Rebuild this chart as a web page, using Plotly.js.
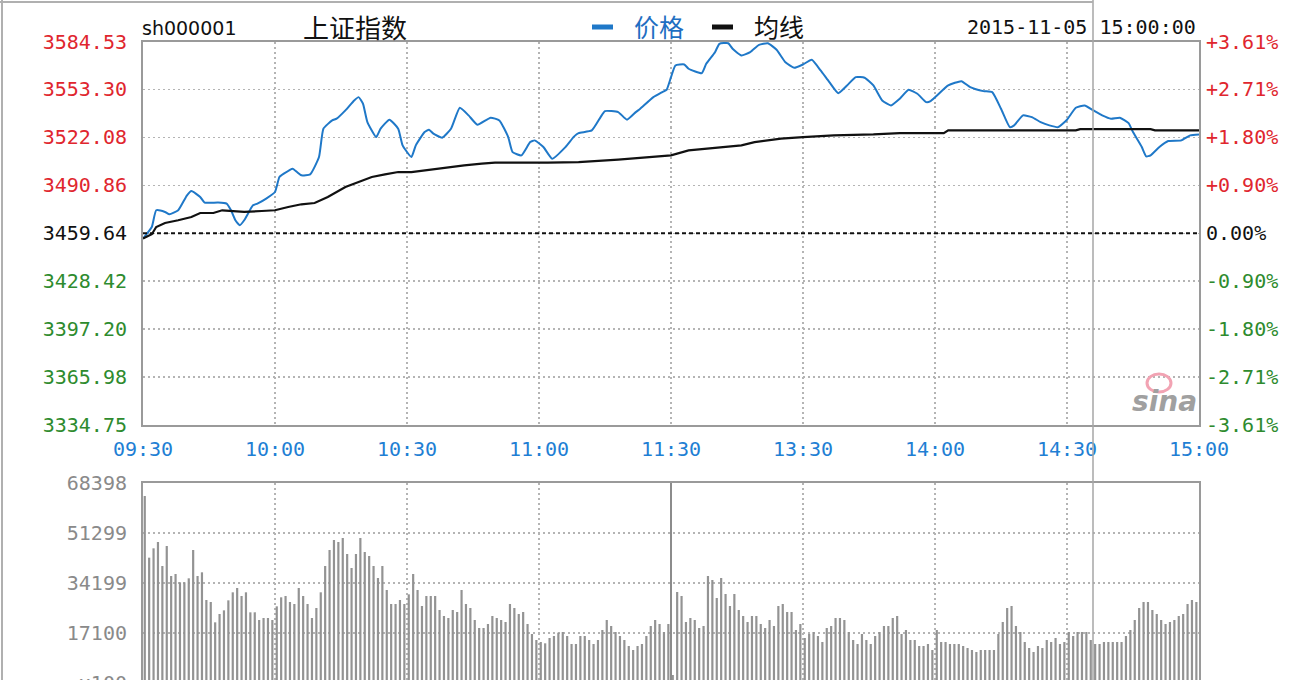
<!DOCTYPE html>
<html>
<head>
<meta charset="utf-8">
<script src="https://cdn.plot.ly/plotly-3.0.1.min.js"></script>
<style>
html,body{margin:0;padding:0;overflow:hidden;background:#fff;}
#chart{width:1300px;height:700px;}
</style>
</head>
<body>
<div id="chart"></div>
<script>
// ---------------- DATA ----------------
const symbol = "sh000001";
const indexName = "上证指数";
const legendNames = ["价格", "均线"];
const stamp = "2015-11-05 15:00:00";
const prevClose = 3459.64;

const timeTickLabels = ["09:30","10:00","10:30","11:00","11:30","13:30","14:00","14:30","15:00"];
const priceTicks = [3584.53,3553.30,3522.08,3490.86,3459.64,3428.42,3397.20,3365.98,3334.75];
const priceTickLabels = ["3584.53","3553.30","3522.08","3490.86","3459.64","3428.42","3397.20","3365.98","3334.75"];
const pctTickLabels = ["+3.61%","+2.71%","+1.80%","+0.90%","0.00%","-0.90%","-1.80%","-2.71%","-3.61%"];
const volTicks = [68398,51299,34199,17100,0];
const volTickLabels = ["68398","51299","34199","17100","x100"];

const priceTimes = ["09:30","09:32","09:33","09:35","09:36","09:38","09:40","09:41","09:43","09:44","09:47","09:49","09:50","09:51","09:52","09:53","09:55","09:56","09:58","10:00",
"10:01","10:02","10:04","10:05","10:06","10:08","10:10","10:11","10:13","10:14","10:16","10:18","10:19","10:20","10:21","10:23","10:24","10:26","10:28","10:29",
"10:31","10:32","10:34","10:35","10:36","10:38","10:40","10:42","10:44","10:46","10:49","10:51","10:53","10:54","10:56","10:58","10:59","11:01","11:03","11:06",
"11:08","11:09","11:12","11:14","11:15","11:18","11:20","11:22","11:23","11:26","11:28","11:29","11:30","13:01","13:03","13:04","13:07","13:08","13:10","13:11",
"13:13","13:14","13:16","13:18","13:20","13:22","13:24","13:26","13:28","13:30","13:32","13:34","13:36","13:38","13:40","13:42","13:44","13:46","13:48","13:50",
"13:52","13:54","13:56","13:58","13:59","14:03","14:06","14:08","14:11","14:13","14:15","14:17","14:18","14:20","14:22","14:24","14:26","14:28","14:30","14:32",
"14:34","14:36","14:38","14:40","14:42","14:44","14:45","14:47","14:48","14:49","14:51","14:53","14:56","14:58","15:00"];
const priceValues = [3456.19,3463.70,3474.60,3473.50,3472.00,3474.60,3484.35,3487.15,3483.25,3479.60,3479.60,3478.95,3474.60,3468.09,3464.84,3468.10,3477.85,3478.95,3482.20,3486.50,
3496.26,3498.47,3501.72,3499.50,3497.37,3498.00,3509.27,3527.74,3533.14,3534.25,3539.65,3546.15,3548.30,3544.00,3532.04,3522.28,3527.74,3533.60,3527.74,3516.88,
3509.27,3516.88,3525.53,3527.10,3524.50,3521.90,3527.74,3541.40,3536.40,3530.35,3534.90,3533.14,3522.28,3512.52,3510.37,3519.03,3520.13,3515.77,3508.20,3515.77,
3522.73,3524.88,3526.63,3535.30,3539.20,3538.54,3533.60,3538.54,3540.75,3548.30,3551.55,3553.10,3561.31,3568.90,3569.57,3566.77,3563.91,3570.00,3577.57,3583.03,
3583.40,3579.78,3575.42,3577.57,3582.38,3583.40,3579.13,3571.06,3567.42,3569.57,3572.63,3565.67,3558.06,3550.90,3555.90,3561.31,3560.90,3555.90,3546.15,3542.90,
3547.26,3553.10,3550.50,3545.05,3545.70,3555.90,3558.70,3554.80,3552.20,3551.55,3540.75,3528.78,3529.89,3536.40,3535.30,3532.04,3529.89,3528.78,3533.60,3541.40,
3542.90,3539.65,3536.40,3534.25,3534.90,3531.38,3525.53,3515.77,3509.72,3510.37,3515.77,3519.68,3520.13,3523.38,3524.03];

const avgTimes = ["09:30","09:32","09:33","09:35","09:38","09:41","09:43","09:46","09:48","09:51","09:53","09:57","10:00","10:03","10:06","10:09","10:12","10:16","10:19","10:22",
"10:25","10:28","10:31","10:35","10:40","10:43","10:47","10:50","11:02","11:09","11:18","11:23","11:30","13:04","13:11","13:16","13:19","13:25","13:30","13:37",
"13:46","13:52","14:02","14:03","14:32","14:33","14:49","14:50","15:00"];
const avgValues = [3456.20,3459.00,3463.70,3466.33,3468.09,3470.24,3472.84,3472.84,3474.60,3474.14,3473.50,3474.14,3474.60,3476.73,3478.50,3479.35,3483.25,3489.75,3493.00,3496.26,
3498.00,3499.51,3499.51,3501.07,3502.76,3503.87,3504.97,3505.62,3505.62,3506.00,3507.58,3508.88,3510.37,3513.60,3515.77,3516.88,3519.03,3521.24,3522.28,3523.38,
3524.03,3524.88,3524.88,3526.63,3526.63,3527.48,3527.48,3526.63,3526.63];

// one bar per minute from 09:30 (units of 100 shares)
const volumes = [
63950,42860,46060,48220,40010,46850,36590,37280,34430,34430,35800,45490,36590,37850,28390,27700,20750,23600,24850,28270,
31010,32490,29750,31010,24170,24170,21550,22230,22230,21550,26220,29300,29750,27700,27020,32490,29750,27020,22230,25650,
31010,40010,45490,48910,48220,49590,44120,39330,44120,49590,44800,43430,40010,35910,40010,31810,27020,27020,28390,27020,
30320,37280,31810,26330,29750,29750,29750,24970,
22910,22230,24970,24280,31810,27020,25650,21550,18810,18810,20180,22910,22230,21550,20860,27020,25650,23600,24280,20180,
16760,14710,14020,13570,15390,16070,17210,17440,16070,13340,13340,16070,16070,14710,13340,14710,18130,21550,19490,17440,
16070,14710,12650,11290,12650,13340,16070,19490,21550,20180,17440,20180,2740,
31120,29750,20860,22230,21550,18810,19490,36590,35230,29070,35910,30440,26330,30440,24970,22910,20860,22910,22910,20180,
18810,21550,19490,26330,27020,24280,24280,18130,20180,15390,16760,17440,16070,14020,18810,19490,22230,22230,21550,17440,
14710,13340,16760,14710,13340,
16070,17440,19490,19490,22230,22910,16760,18130,14710,14710,12650,12650,13340,11290,18130,14020,14020,13340,13340,13340,
12650,11970,11290,10600,11290,11290,11290,11290,16760,20860,25650,26330,19490,17440,14020,11970,10600,12650,11970,14710,
14020,15390,13340,14020,17440,16070,17440,17440,17440,14710,13340,13340,14020,14020,14020,14020,14020,16070,18130,21550,
25650,27700,27700,24970,23600,21550,20180,20860,21550,22910,23600,27020,28390,27700];

// ---------------- HELPERS ----------------
function minuteIndex(s){
  const [h,m] = s.split(":").map(Number);
  const t = h*60+m;
  return t <= 690 ? t-570 : t-780+120;
}
const W = 1300, H = 700;
const fx = p => p/W;
const fy = p => 1 - p/H;
const MONO = "DejaVu Sans Mono";
const RED = "#e0262e", GREEN = "#2e8b2e", BLUE = "#1f7fd4", GRID = "#b4b4b4", FRAME = "#9a9a9a";

function colorFor(v){ return v > prevClose + 1e-6 ? RED : (v < prevClose - 1e-6 ? GREEN : "#111"); }
const leftText = priceTicks.map((v,i)=>`<span style="color:${colorFor(v)}">${priceTickLabels[i]}</span>`);
const rightText = priceTicks.map((v,i)=>`<span style="color:${colorFor(v)}">${pctTickLabels[i]}</span>`);

const priceX = priceTimes.map(minuteIndex);
const avgX = avgTimes.map(minuteIndex);
const volX = volumes.map((_,i)=>i);

const traces = [
  {type:"scatter", mode:"lines", x:priceX, y:priceValues, xaxis:"x", yaxis:"y",
   line:{color:"#1f78c8", width:2, shape:"spline", smoothing:0.45}, name:legendNames[0], hoverinfo:"skip"},
  {type:"scatter", mode:"lines", x:avgX, y:avgValues, xaxis:"x", yaxis:"y",
   line:{color:"#111", width:2.2}, name:legendNames[1], hoverinfo:"skip"},
  {type:"scatter", mode:"lines", x:[0,240], y:[prevClose,prevClose], xaxis:"x", yaxis:"y3",
   line:{width:0}, showlegend:false, hoverinfo:"skip"},
  {type:"bar", x:volX, y:volumes, xaxis:"x2", yaxis:"y2", width:0.5, offset:0.15,
   marker:{color:"#939393", line:{width:0}}, hoverinfo:"skip"}
];

const axisCommon = {zeroline:false, showline:true, mirror:true, linecolor:FRAME, linewidth:2, ticks:"", fixedrange:true,
  gridcolor:GRID, gridwidth:1.5, griddash:"2px,3px"};

const layout = {
  width:W, height:H, margin:{l:0,r:0,t:0,b:0}, paper_bgcolor:"#fff", plot_bgcolor:"#fff", showlegend:false,
  xaxis: Object.assign({}, axisCommon, {domain:[fx(143),fx(1199)], range:[0,240], anchor:"y",
    tickmode:"array", tickvals:[0,30,60,90,120,150,180,210,240], ticktext:timeTickLabels, showgrid:true,
    tickfont:{family:MONO, size:20, color:BLUE}, ticklabelstandoff:5}),
  yaxis: Object.assign({}, axisCommon, {domain:[fy(425),fy(41.5)], range:[priceTicks[8],priceTicks[0]], anchor:"x",
    tickmode:"array", tickvals:priceTicks, ticktext:leftText, showgrid:true,
    tickfont:{family:MONO, size:20, color:"#111"}, ticklabelstandoff:10}),
  yaxis3: {overlaying:"y", side:"right", anchor:"x", range:[priceTicks[8],priceTicks[0]], tickmode:"array",
    tickvals:priceTicks, ticktext:rightText, showgrid:false, zeroline:false, showline:false, ticks:"", fixedrange:true,
    tickfont:{family:MONO, size:20, color:"#111"}, ticklabelstandoff:6},
  xaxis2: Object.assign({}, axisCommon, {domain:[fx(143),fx(1199)], range:[0,240], anchor:"y2",
    tickmode:"array", tickvals:[30,60,90,150,180,210], showticklabels:false, showgrid:true}),
  yaxis2: Object.assign({}, axisCommon, {domain:[fy(683),fy(483)], range:[0,volTicks[0]], anchor:"x2",
    tickmode:"array", tickvals:volTicks, ticktext:volTickLabels, showgrid:true,
    tickfont:{family:MONO, size:20, color:"#8a8a8a"}, ticklabelstandoff:10}),
  shapes:[
    {type:"line", xref:"x", yref:"y", x0:0, x1:240, y0:prevClose, y1:prevClose, line:{color:"#111", width:2, dash:"4px,3px"}},
    {type:"line", xref:"x2", yref:"y2", x0:120, x1:120, y0:0, y1:volTicks[0], line:{color:"#8c8c8c", width:2}},
    {type:"line", xref:"paper", yref:"paper", x0:fx(1093), x1:fx(1093), y0:0, y1:1, line:{color:"#a6a6a6", width:1.5}},
    {type:"line", xref:"paper", yref:"paper", x0:0, x1:fx(1093), y0:fy(2), y1:fy(2), line:{color:"#b0b0b0", width:2}},
    {type:"line", xref:"paper", yref:"paper", x0:fx(2), x1:fx(2), y0:0, y1:1, line:{color:"#b0b0b0", width:2}},
    {type:"rect", xref:"paper", yref:"paper", x0:fx(592), x1:fx(613), y0:fy(29.5), y1:fy(24.5), fillcolor:"#1f78c8", line:{width:0}},
    {type:"rect", xref:"paper", yref:"paper", x0:fx(712), x1:fx(733), y0:fy(29.5), y1:fy(24.5), fillcolor:"#111", line:{width:0}},
    {type:"circle", xref:"paper", yref:"paper", x0:fx(1147), x1:fx(1171), y0:fy(392), y1:fy(374), line:{color:"#f2a3b3", width:3}, fillcolor:"rgba(0,0,0,0)"}
  ],
  annotations:[
    {xref:"paper", yref:"paper", x:fx(140), y:fy(28), xanchor:"left", yanchor:"middle", showarrow:false, text:symbol,
     font:{family:"DejaVu Sans", size:19, color:"#111"}},
    {xref:"paper", yref:"paper", x:fx(301), y:fy(26), xanchor:"left", yanchor:"middle", showarrow:false, text:indexName,
     font:{family:"Noto Sans CJK SC", size:26, color:"#111"}},
    {xref:"paper", yref:"paper", x:fx(632), y:fy(26), xanchor:"left", yanchor:"middle", showarrow:false, text:legendNames[0],
     font:{family:"Noto Sans CJK SC", size:25, color:"#1f6fc2"}},
    {xref:"paper", yref:"paper", x:fx(752), y:fy(26), xanchor:"left", yanchor:"middle", showarrow:false, text:legendNames[1],
     font:{family:"Noto Sans CJK SC", size:25, color:"#111"}},
    {xref:"paper", yref:"paper", x:fx(1198), y:fy(27), xanchor:"right", yanchor:"middle", showarrow:false, text:stamp,
     font:{family:MONO, size:20, color:"#111"}},
    {xref:"paper", yref:"paper", x:fx(1164), y:fy(401), xanchor:"center", yanchor:"middle", showarrow:false, text:"<i><b>sina</b></i>",
     font:{family:"DejaVu Sans", size:28, color:"#a0a0a0"}}
  ]
};

Plotly.newPlot("chart", traces, layout, {staticPlot:true, displayModeBar:false});
</script>
</body>
</html>
